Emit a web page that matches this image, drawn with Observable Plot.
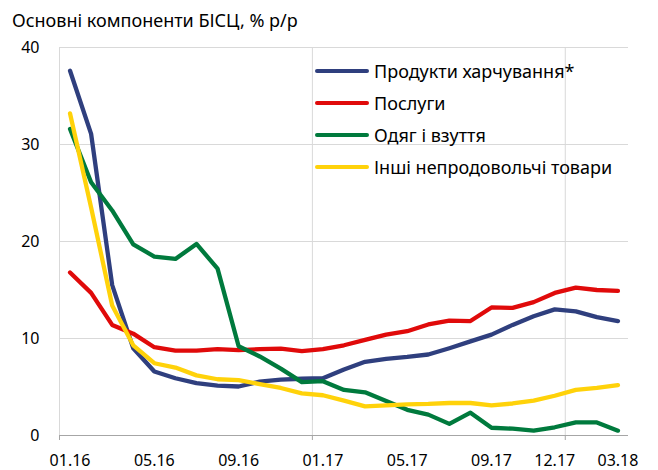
<!DOCTYPE html>
<html><head><meta charset="utf-8">
<script src="https://cdn.jsdelivr.net/npm/d3@7"></script>
<script src="https://cdn.jsdelivr.net/npm/@observablehq/plot@0.6"></script>
<style>
body{margin:0;background:#fff;font-family:"Noto Sans",sans-serif;color:#000;}
#wrap{position:relative;width:658px;height:470px;overflow:hidden;}
#title{height:36px;box-sizing:border-box;padding:8px 0 0 12px;font-size:18px;line-height:1.362;white-space:nowrap;}
#chart svg{display:block;}
#legend{position:absolute;left:315px;top:55px;}
.row{height:32px;display:flex;align-items:center;font-size:18px;white-space:nowrap;}
.sw{width:54px;height:4px;border-radius:2px;margin-right:5px;}
</style></head><body>
<div id="wrap">
<div id="title">Основні компоненти БІСЦ, % р/р</div>
<div id="chart"></div>
<div id="legend"></div>
</div>
<script>
const months = ["01.16","02.16","03.16","04.16","05.16","06.16","07.16","08.16","09.16","10.16","11.16","12.16",
"01.17","02.17","03.17","04.17","05.17","06.17","07.17","08.17","09.17","10.17","11.17","12.17",
"01.18","02.18","03.18"];
const tickLabels = ["01.16","05.16","09.16","01.17","05.17","09.17","12.17","03.18"];
const yTicks = [0,10,20,30,40];
const seriesNames = ["Продукти харчування*","Послуги","Одяг і взуття","Інші непродовольчі товари"];
const seriesColors = ["#2f3f7e","#e00a0a","#007a3d","#ffd20a"];
const food =     [37.6,31.1,15.5,9.0,6.6,5.9,5.4,5.15,5.05,5.55,5.75,5.85,5.9,6.8,7.6,7.9,8.1,8.35,9.0,9.7,10.4,11.4,12.3,13.0,12.8,12.2,11.8];
const services = [16.8,14.7,11.4,10.5,9.1,8.75,8.75,8.9,8.8,8.9,8.95,8.7,8.9,9.3,9.85,10.4,10.75,11.45,11.85,11.8,13.2,13.15,13.75,14.7,15.25,15.0,14.9];
const clothes =  [31.6,26.1,23.2,19.7,18.45,18.2,19.75,17.2,9.2,8.15,6.9,5.5,5.6,4.7,4.45,3.55,2.65,2.15,1.2,2.35,0.8,0.7,0.5,0.85,1.35,1.35,0.5];
const other =    [33.2,23.5,13.4,9.3,7.45,7.0,6.2,5.8,5.7,5.3,4.9,4.35,4.15,3.6,3.0,3.1,3.2,3.25,3.35,3.35,3.1,3.3,3.6,4.1,4.7,4.9,5.2];

const values = [food, services, clothes, other];
const rows = [];
values.forEach((arr, s) => arr.forEach((v, i) => rows.push({i, v, s: seriesNames[s]})));
const labelIdx = tickLabels.map(t => months.indexOf(t));
const boundaryIdx = [-0.5, 11.5, 23.5];

const chart = Plot.plot({
  width: 658,
  height: 434,
  marginTop: 11,
  marginBottom: 35,
  marginLeft: 59,
  marginRight: 30,
  style: {fontFamily: "Noto Sans", fontSize: "16px", color: "#000", background: "#fff", overflow: "visible"},
  x: {type: "linear", domain: [-0.5, months.length - 0.5]},
  y: {domain: [0, 40]},
  color: {domain: seriesNames, range: seriesColors},
  marks: [
    Plot.gridY(yTicks.filter(d => d > 0), {stroke: "#d9d9d9", strokeOpacity: 1, strokeWidth: 1}),
    Plot.ruleX(boundaryIdx, {y1: 0, y2: 40, stroke: "#d9d9d9", strokeWidth: 1}),
    Plot.ruleY([0], {stroke: "#a6a6a6", strokeWidth: 1}),
    Plot.axisX(boundaryIdx, {tickSize: 5, tickFormat: () => "", stroke: "#a6a6a6", label: null}),
    Plot.axisX(labelIdx, {tickSize: 0, tickPadding: 19, tickFormat: i => months[i], fontSize: 16, fill: "#000", label: null}),
    Plot.axisY(yTicks, {tickSize: 0, tickPadding: 20, fontSize: 16, fill: "#000", label: null}),
    Plot.lineY(rows, {x: "i", y: "v", z: "s", stroke: "s", strokeWidth: 4.3, strokeLinecap: "round", strokeLinejoin: "round"})
  ]
});
document.getElementById("chart").appendChild(chart);

const legend = document.getElementById("legend");
seriesNames.forEach((n, k) => {
  const r = document.createElement("div");
  r.className = "row";
  r.innerHTML = `<div class="sw" style="background:${seriesColors[k]}"></div><span>${n}</span>`;
  legend.appendChild(r);
});
</script>
</body></html>
